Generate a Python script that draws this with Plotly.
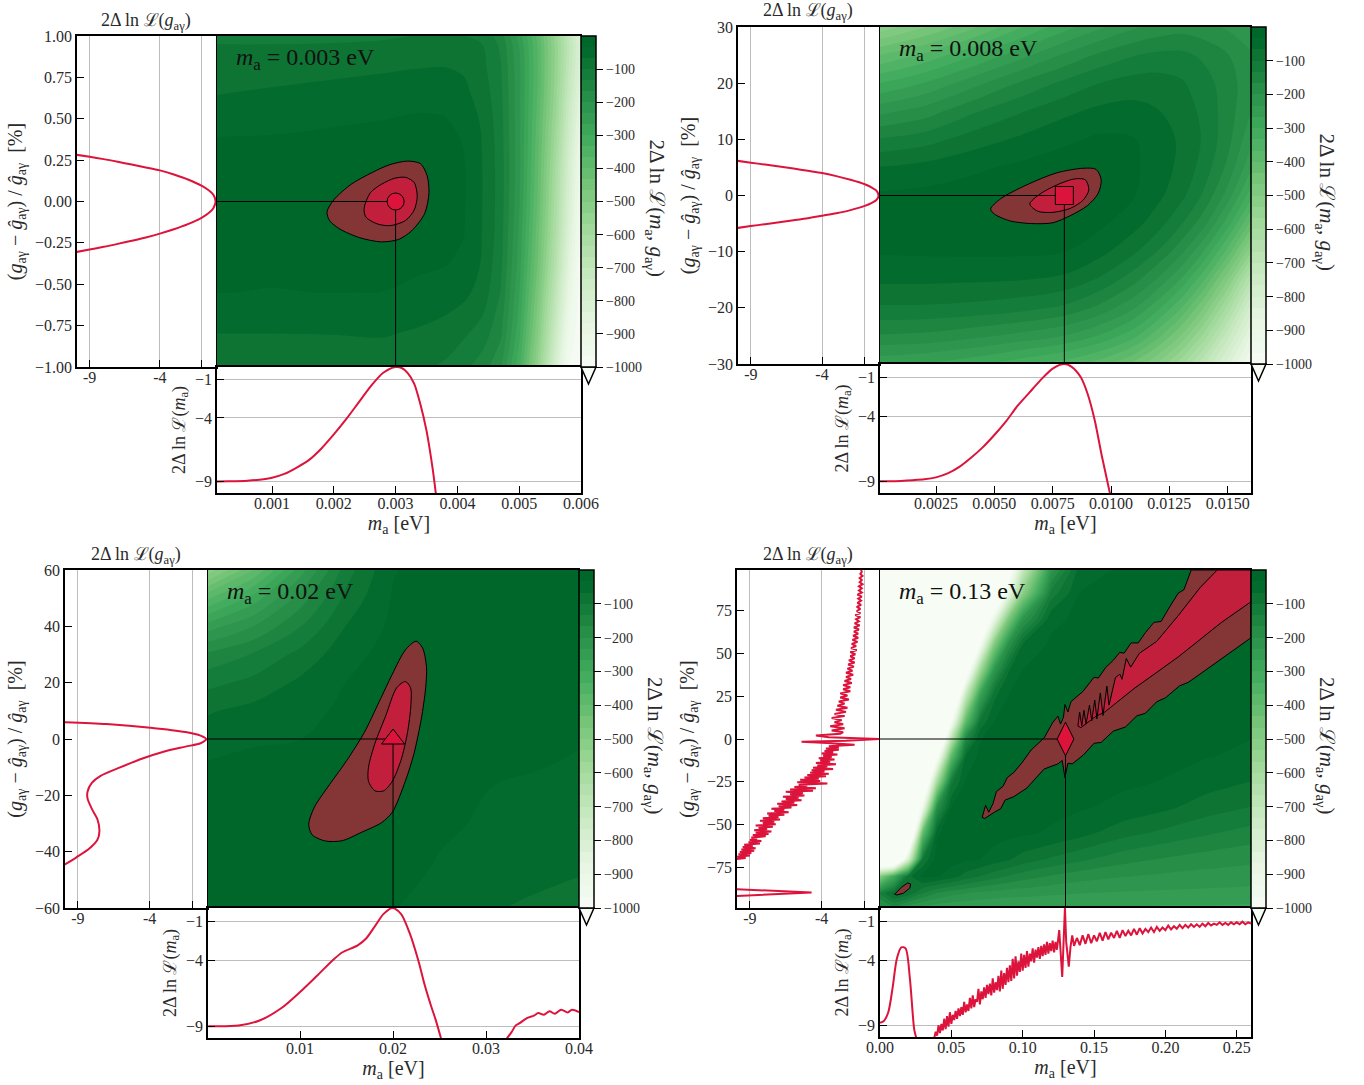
import plotly.graph_objects as go

W, H = 1364, 1085

# ---------- panel labels ----------
mass_text = ["0.003", "0.008", "0.02", "0.13"]
mass_best = [0.003, 0.008, 0.02, 0.13]

# ---------- panel 1 ----------
p1_x = [0.0001,0.001,0.002,0.0028,0.0034,0.0038,0.0041,0.0044,0.0047,0.0050,0.0053,0.0056,0.0058,0.0060]
p1_y = [-1,-0.8,-0.55,-0.38,-0.2,0,0.2,0.39,0.5,0.646,0.8,0.95,1]
p1_z = [
 [-92,-92,-90,-88,-95,-105,-125,-150,-195,-325,-540,-800,-970,-1000],
 [-67,-67,-66,-64,-72,-82,-95,-115,-160,-290,-500,-750,-930,-1000],
 [-33,-34,-33,-34,-42,-48,-58,-80,-135,-265,-460,-700,-880,-1000],
 [-30,-30,-26,-20,-28,-32,-40,-70,-125,-250,-435,-665,-845,-1000],
 [-24,-23,-18,-8,-10,-18,-32,-67,-118,-240,-420,-640,-815,-970],
 [-20,-19,-14,-2,-2,-12,-30,-66,-115,-230,-405,-625,-795,-950],
 [-24,-23,-18,-9,-8,-15,-30,-66,-115,-225,-395,-610,-780,-930],
 [-33,-32,-28,-24,-20,-24,-36,-68,-118,-225,-385,-590,-755,-905],
 [-48,-44,-38,-34,-30,-32,-44,-72,-120,-225,-380,-575,-740,-885],
 [-67,-62,-56,-50,-44,-46,-58,-80,-125,-225,-370,-560,-720,-860],
 [-82,-78,-74,-70,-66,-65,-70,-90,-130,-225,-365,-550,-700,-830],
 [-100,-100,-99,-95,-90,-88,-90,-100,-140,-235,-370,-550,-690,-820],
 [-110,-108,-105,-105,-98,-98,-100,-110,-150,-250,-380,-560,-700,-830],
]
p1_outer_x = [.00189,.0020,.00228,.00263,.00291,.00319,.0034,.00351,.00354,.00347,.00326,.00305,.00277,.00242,.0021,.00193,.00189]
p1_outer_y = [-.0625,.01,.104,.177,.223,.244,.229,.156,.052,-.073,-.177,-.229,-.244,-.219,-.167,-.115,-.0625]
p1_mid_x = [.00249,.00259,.00277,.00298,.00316,.0033,.00335,.0033,.00316,.00291,.0027,.00252,.00249]
p1_mid_y = [-.042,.052,.104,.14,.146,.115,.031,-.052,-.115,-.146,-.135,-.094,-.042]
p1_left_x = [-10,-9,-8,-7,-6,-5,-4,-3,-2,-1,-.5,-.2,-.03,-.2,-.5,-1,-2,-3,-4,-5,-6,-7,-8,-9,-10]
p1_left_y = [-.306,-.29,-.274,-.256,-.237,-.217,-.194,-.168,-.137,-.097,-.068,-.042,0,.042,.066,.094,.133,.163,.188,.206,.223,.24,.256,.27,.283]
p1_bot_x = [.0001,.0003,.0006,.0008,.001,.0012,.0014,.0016,.0018,.002,.0022,.0024,.0026,.0028,.003,.0031,.0032,.0033,.0034,.0035,.0036,.00365]
p1_bot_z = [-9,-8.98,-8.93,-8.85,-8.7,-8.4,-7.9,-7.3,-6.4,-5.3,-4.1,-2.8,-1.5,-.45,0,-.08,-.5,-1.3,-2.9,-5,-8,-9.9]

# ---------- panel 2 ----------
p2_x = [.0001,.002,.004,.006,.008,.0095,.011,.012,.013,.014,.015,.016]
p2_y = [-30,-25,-20,-15,-10,-5,0,5,10,15,20,25,30]
p2_z = [
 [-260,-270,-290,-320,-350,-385,-440,-505,-590,-700,-820,-940],
 [-170,-175,-190,-210,-235,-270,-325,-390,-470,-580,-720,-870],
 [-105,-105,-110,-120,-140,-175,-230,-290,-365,-470,-610,-780],
 [-60,-60,-62,-65,-75,-105,-155,-205,-270,-365,-495,-670],
 [-30,-28,-27,-27,-33,-55,-95,-135,-190,-270,-380,-530],
 [-28,-24,-18,-9,-9,-26,-55,-85,-130,-190,-285,-410],
 [-28,-24,-18,-10,-2,-10,-32,-58,-90,-140,-215,-320],
 [-65,-55,-40,-27,-15,-12,-28,-50,-75,-115,-175,-260],
 [-130,-115,-85,-62,-40,-28,-32,-50,-72,-105,-155,-225],
 [-210,-185,-140,-105,-75,-58,-55,-65,-80,-110,-150,-200],
 [-300,-265,-215,-165,-125,-100,-85,-85,-95,-120,-150,-190],
 [-400,-360,-305,-250,-195,-160,-135,-125,-125,-140,-165,-195],
 [-520,-470,-410,-340,-280,-240,-205,-190,-180,-190,-205,-225],
]
p2_outer_x = [.00484,.00528,.00639,.00769,.0088,.00936,.00958,.00945,.00899,.00825,.00751,.00658,.00565,.005,.00484]
p2_outer_y = [-2.4,-.55,1.9,4.05,4.85,4.66,2.82,.37,-1.8,-3.6,-4.85,-5,-4.5,-3.3,-2.4]
p2_mid_x = [.00652,.00695,.00769,.00843,.0089,.00905,.0088,.00825,.00751,.00686,.00652]
p2_mid_y = [-1.5,.25,1.9,2.95,2.8,1,-.85,-2.3,-3,-2.8,-1.5]
p2_left_x = [-10,-9,-8,-7,-6,-5,-4,-3,-2,-1,-.5,-.2,-.03,-.2,-.5,-1,-2,-3,-4,-5,-6,-7,-8,-9,-10]
p2_left_y = [-5.8,-5.45,-5.1,-4.75,-4.4,-4.05,-3.6,-3.15,-2.6,-1.85,-1.3,-.85,0,.9,1.4,2,2.8,3.45,4,4.4,4.8,5.15,5.5,5.85,6.2]
p2_bot_x = [.0001,.0005,.001,.0015,.002,.0025,.003,.0035,.004,.0045,.005,.0055,.006,.0065,.007,.0075,.008,.0083,.0087,.009,.0093,.0096,.00996]
p2_bot_z = [-9,-9,-8.97,-8.92,-8.85,-8.7,-8.4,-7.9,-7.2,-6.4,-5.45,-4.4,-3.2,-2.2,-1.2,-.35,0,-.2,-1,-2.3,-4.3,-7,-9.97]

# ---------- panel 3 ----------
p3_x = [.0001,.005,.01,.015,.02,.025,.03,.035,.04]
p3_y = [-60,-45,-30,-15,-8,0,10,20,30,40,50,60]
p3_z = [
 [-20,-18,-16,-15,-32,-45,-63,-72,-80],
 [-20,-16,-14,-14,-20,-36,-47,-55,-62],
 [-22,-15,-12,-10,-12,-28,-37,-42,-46],
 [-30,-20,-12,-6,-5,-20,-32,-36,-40],
 [-33,-22,-12,-4,-3,-15,-28,-30,-36],
 [-50,-40,-34,-10,-1,-12,-22,-26,-31],
 [-70,-56,-42,-28,-10,-15,-22,-26,-28],
 [-110,-90,-60,-33,-14,-12,-18,-22,-24],
 [-160,-130,-90,-45,-20,-10,-14,-16,-18],
 [-250,-200,-135,-65,-26,-10,-10,-12,-14],
 [-370,-285,-185,-90,-30,-10,-10,-10,-10],
 [-520,-400,-250,-115,-36,-12,-10,-10,-10],
]
p3_outer_x = [.02248,.02318,.0236,.02351,.02304,.02225,.02132,.01992,.01876,.01643,.01456,.0127,.0113,.01093,.01154,.01317,.01503,.01689,.01852,.01992,.02132,.02248]
p3_outer_y = [34.7,32.3,25.5,18.2,7.1,-5.2,-15,-26,-29.7,-33.4,-36.1,-36.2,-34,-30.3,-24.2,-16.2,-7.6,2.2,13.3,23,31.6,34.7]
p3_mid_x = [.02132,.02188,.02192,.02155,.02085,.01992,.01899,.01806,.01736,.01736,.01806,.01922,.02039,.02132]
p3_mid_y = [20.4,18.2,12,2.2,-7.6,-15,-18.4,-18.4,-15,-10,-1.5,8.3,18.2,20.4]
p3_left_x = [-10,-9.1,-8.2,-7.64,-7.5,-7.64,-8.03,-8.33,-8.33,-8.03,-7.42,-6.06,-4.55,-3.03,-1.5,-.45,-.06,-.45,-1.5,-3.94,-7,-10]
p3_left_y = [-44.8,-42,-38.9,-35.8,-32.8,-28.5,-24.8,-21.1,-18.7,-15.6,-13.1,-10.1,-7,-4.5,-2.7,-1.5,0,1.2,2.45,4,5.3,6]
p3_bot_x = [.00012,.00339,.00571,.00804,.01,.01177,.01363,.01456,.0162,.01713,.01806,.01899,.01992,.02085,.02178,.02272,.02342,.02411,.02458,.02519]
p3_bot_z = [-9,-8.95,-8.55,-7.6,-6.4,-5.2,-3.9,-3.37,-2.84,-2.3,-1.38,-.45,0,-.45,-1.9,-4,-5.9,-7.5,-8.5,-10]
p3_bot2_x = [.03217,.03273,.0332,.03366,.03436,.03515,.03562,.03622,.03683,.03739,.03809,.03879,.03925,.04]
p3_bot2_z = [-10,-9.47,-8.94,-8.75,-8.4,-8.2,-8,-8.13,-7.87,-8.05,-7.74,-7.95,-7.74,-7.93]

# ---------- panel 4 ----------
p4_x = [0,.01,.02,.03,.04,.05,.06,.07,.08,.09,.10,.12,.14,.17,.20,.23,.26]
p4_y = [-98.5,-90,-80,-70,-55,-40,-25,-10,0,10,25,40,55,70,85,98.5]
p4_z = [
 [-220,-180,-230,-250,-258,-262,-264,-265,-266,-267,-268,-270,-270,-270,-272,-272,-275],
 [-130,-55,-80,-135,-170,-190,-200,-210,-215,-220,-222,-228,-233,-238,-240,-242,-245],
 [-500,-300,-80,-25,-30,-50,-80,-100,-120,-135,-150,-170,-185,-198,-207,-213,-218],
 [-1400,-1400,-800,-100,-15,-20,-27,-33,-48,-62,-80,-105,-125,-153,-170,-183,-192],
 [-1500,-1500,-1400,-400,-40,-10,-14,-17,-20,-25,-28,-38,-55,-88,-110,-130,-147],
 [-1500,-1500,-1300,-930,-190,-33,-8,-10,-12,-15,-17,-24,-30,-42,-60,-85,-102],
 [-1500,-1500,-1500,-1300,-600,-110,-30,-8,-8,-9,-10,-15,-20,-28,-35,-52,-67],
 [-1500,-1500,-1500,-1800,-1050,-400,-65,-25,-15,-10,-8,-5,-8,-15,-26,-32,-40],
 [-1500,-1500,-1500,-1800,-1400,-680,-170,-36,-20,-12,-8,-5,-4,-8,-15,-22,-33],
 [-1500,-1500,-1500,-1800,-1600,-1000,-400,-95,-33,-20,-12,-6,-4,-4,-8,-14,-20],
 [-1500,-1500,-1500,-1800,-1800,-1400,-720,-270,-75,-33,-22,-12,-7,-4,-4,-6,-10],
 [-1500,-1500,-1500,-1800,-1800,-1800,-1150,-590,-220,-70,-33,-20,-12,-7,-4,-4,-5],
 [-1500,-1500,-1500,-1800,-1800,-1800,-1500,-1000,-490,-200,-65,-27,-18,-11,-7,-4,-3],
 [-1500,-1500,-1500,-1800,-1800,-1800,-1800,-1250,-900,-480,-220,-42,-26,-16,-10,-6,-4],
 [-1500,-1500,-1500,-1800,-1800,-1800,-1800,-1800,-1300,-900,-520,-120,-33,-22,-14,-9,-5],
 [-1500,-1500,-1500,-1800,-1800,-1800,-1800,-1800,-1500,-1100,-720,-220,-50,-28,-18,-12,-8],
]
p4_outer_x = [.0716,.074,.0762,.0792,.0816,.0862,.0892,.0938,.0998,.1059,.115,.1211,.1247,.1265,.1286,.1296,.1317,.1338,.1423,.15,.153,.158,.1635,.168,.171,.176,.181,.186,.192,.197,.203,.209,.213,.2181,.26,.26,.2242,.216,.21,.2,.1939,.186,.18,.172,.1635,.155,.15,.1423,.1347,.1317,.1296,.1277,.1247,.115,.1029,.0938,.0877,.0846,.0801,.0762,.0734,.0716]
p4_outer_y = [-45.7,-38.6,-42.7,-37.6,-30.6,-27.6,-22.5,-19.5,-13.5,-6.4,.6,9.7,13.3,8.7,12.7,20.1,15.7,21.7,27.8,36,35.5,41.5,45.9,50.5,50,56,56,62,68,68.5,77,85,87,98.5,98.5,59,37.8,33,31,24,21.7,15,13.5,7,4.6,-2,-2.5,-9.5,-14.5,-14.1,-22.5,-12.5,-14.5,-17.5,-28.6,-33.6,-35.6,-40.6,-42.7,-44.7,-46.3,-45.7]
p4_mid_x = [.1387,.1399,.1414,.1429,.1444,.1468,.1484,.1505,.152,.1544,.1563,.159,.1605,.165,.1681,.1696,.1726,.1757,.1817,.1939,.2091,.2242,.2363,.26,.26,.2394,.2242,.2091,.1939,.1787,.1635,.1575,.1514,.1453,.1408,.1387]
p4_mid_y = [7.6,15.7,7.6,16.7,8.7,19.7,10.7,22.7,11.7,26.8,13.7,30.8,19.7,35.8,37.8,34.8,46.9,41.9,49.9,56.9,72,88.1,98.5,98.5,80,68,57.9,47.9,38.8,29.8,19.7,15.7,13.3,9.7,6.6,7.6]
p4_blob_x = [.0103,.0149,.0194,.0215,.0209,.0164,.0118,.0103]
p4_blob_y = [-90.5,-86.5,-83.9,-84.5,-86.9,-89.9,-90.9,-90.5]
p4_left_x = [-10,-9.3,-9.9,-9,-9.8,-8.9,-9.7,-8.7,-9.6,-8.6,-9.5,-8.8,-9.4,-8.3,-9.1,-8.2,-9,-8.5,-8.9,-7.9,-8.8,-7.7,-8.6,-7.5,-8.7,-7.8,-8.4,-7.4,-8.6,-7.2,-8.1,-7.3,-8.3,-6.9,-8.1,-7,-7.7,-6.6,-7.8,-6.3,-7.3,-6.6,-7.5,-6.1,-7,-5.7,-7.1,-5.9,-6.8,-5.4,-6.5,-5.6,-6.7,-5.2,-6.2,-5.3,-6.5,-4.6,-6.2,-4.4,-5.9,-5,-5.6,-3.6,-5.7,-4.1,-5.5,-4.2,-5.2,-3.7,-5,-3.5,-4.8,-3.8,-4.7,-3.2,-4.6,-3.6,-4.3,-3,-4.4,-3.4,-4.1,-3.1,-4.2,-3.3,-3.9,-2.9,-4,-3.2,-3.8,-2.8,-3.7,-2.8,-3.5,-1.7,-3.6,-5.4,-2.3,-1,0,-1,-3.5,-4.4,-2.7,-2.5,
             -3.3,-2.4,-3.4,-2.5,-3.1,-2.6,-3.3,-2.4,-3.1,-2.3,-3,-2.2,-2.9,-2.4,-2.8,-2.1,-2.7,-2.2,-2.7,-2,-2.5,-2,-2.5,-1.9,-2.4,-1.95,-2.3,-1.8,-2.3,-1.85,-2.2,-1.75,-2.15,-1.7,-2.1,-1.7,-2,-1.65,-2,-1.55,-1.95,-1.6,-1.9,-1.5,-1.85,-1.45,-1.8,-1.45,-1.75,-1.4,-1.75,-1.35,-1.7,-1.4,-1.6,-1.3,-1.65,-1.3,-1.55,-1.3,-1.55,-1.25,-1.5,-1.25,-1.45,-1.2,-1.5,-1.2,-1.4,-1.2,-1.4,-1.15,-1.35,-1.2,-1.35,-1.15,-1.3,-1.2,-1.25]
p4_left_y = [-70,-69.3,-68.6,-67.9,-67.2,-66.5,-65.8,-65.1,-64.4,-63.7,-63,-62.3,-61.6,-60.9,-60.2,-59.5,-58.8,-58.1,-57.4,-56.7,-56,-55.3,-54.6,-53.9,-53.2,-52.5,-51.8,-51.1,-50.4,-49.7,-49,-48.3,-47.6,-46.9,-46.2,-45.5,-44.8,-44.1,-43.4,-42.7,-42,-41.3,-40.6,-39.9,-39.2,-38.5,-37.8,-37.1,-36.4,-35.7,-35,-34.3,-33.6,-32.9,-32.2,-31.5,-30.8,-30.1,-29.4,-28.7,-28,-27.3,-26.6,-25.9,-25.2,-24.5,-23.8,-23.1,-22.4,-21.7,-21,-20.3,-19.6,-18.9,-18.2,-17.5,-16.8,-16.1,-15.4,-14.7,-14,-13.3,-12.6,-11.9,-11.2,-10.5,-9.8,-9.1,-8.4,-7.7,-7,-6.3,-5.6,-4.9,-4.2,-3.4,-2.4,-1.6,-1,-.3,0,.3,1,2,3,4,
             5,6.2,7.4,8.6,9.8,11,12.2,13.4,14.6,15.8,17,18.2,19.4,20.6,21.8,23,24.2,25.4,26.6,27.8,29,30.2,31.4,32.6,33.8,35,36.2,37.4,38.6,39.8,41,42.2,43.4,44.6,45.8,47,48.2,49.4,50.6,51.8,53,54.2,55.4,56.6,57.8,59,60.2,61.4,62.6,63.8,65,66.2,67.4,68.6,69.8,71,72.2,73.4,74.6,75.8,77,78.2,79.4,80.6,81.8,83,84.2,85.4,86.6,87.8,89,90.2,91.4,92.6,93.8,95,96.2,97.4,98.5]
p4_left2_x = [-10,-4.7,-10]
p4_left2_y = [-87.5,-89.5,-91.5]
p4_bot_x = [0,.0027,.0058,.0088,.0118,.0149,.0179,.0209,.024,.0255]
p4_bot_z = [-8.8,-8.67,-8,-6.15,-3.9,-3.02,-3.1,-5.36,-9.34,-10]
p4_bot2_x = [.038,.039,.040,.041,.042,.043,.044,.045,.046,.047,.048,.049,.050,.051,.052,.053,.054,.055,.056,.057,.058,.059,.060,.061,.062,.063,.064,.065,.066,.067,.068,.069,.070,.071,.072,.073,.074,.075,.076,.077,.078,.079,.080,.081,.082,.083,.084,.085,.086,.087,.088,.089,.090,.091,.092,.093,.094,.095,.096,.097,.098,.099,.100,.101,.102,.103,.104,.105,.106,.107,.108,.109,.110,.111,.112,.113,.114,.115,.116,.117,.118,.119,.120,.121,.122,.123,.124,
             .1256,.1277,.1285,.1296,.1305,.1323,.1335,.1347,.136,
             .138,.140,.142,.144,.146,.148,.150,.152,.154,.156,.158,.160,.162,.164,.166,.168,.170,.172,.174,.176,.178,.180,.182,.184,.186,.188,.190,.192,.194,.196,.198,.200,.202,.204,.206,.208,.210,.212,.214,.216,.218,.220,.222,.224,.226,.228,.230,.232,.234,.236,.238,.240,.242,.244,.246,.248,.250,.252,.254,.256,.258,.260]
p4_bot2_z = [-10,-9.5,-9.8,-9,-9.6,-8.9,-9.4,-8.5,-9.3,-8.3,-9.1,-8,-8.9,-8.2,-8.6,-7.9,-8.5,-7.7,-8.3,-7.6,-8.2,-7.2,-8,-7.4,-7.9,-6.9,-7.7,-6.7,-7.6,-7,-7.2,-6.2,-7.4,-6.4,-7,-6.1,-6.9,-5.9,-6.6,-5.8,-6.7,-5.4,-6.5,-5.7,-6.3,-5.2,-6.4,-4.8,-6.2,-5,-5.9,-4.6,-5.7,-4.4,-5.6,-3.9,-5.4,-3.7,-5.2,-4.1,-4.9,-3.5,-4.8,-3.6,-4.6,-3.3,-4.5,-3.5,-4.1,-3.1,-4.2,-3.2,-3.8,-3,-3.9,-2.9,-3.7,-2.8,-3.6,-2.6,-3.5,-2.7,-3.3,-2.5,-3.4,-2.6,-3.2,
             -1.7,-5.3,-2.5,0,-2.6,-4.5,-3,-2.1,-2.9,
             -2.3,-2.85,-2.1,-2.75,-2,-2.7,-2.1,-2.55,-1.9,-2.5,-1.85,-2.4,-1.9,-2.3,-1.75,-2.3,-1.7,-2.15,-1.75,-2.1,-1.6,-2.05,-1.55,-1.95,-1.6,-1.85,-1.5,-1.85,-1.45,-1.75,-1.5,-1.7,-1.35,-1.65,-1.4,-1.6,-1.3,-1.55,-1.3,-1.5,-1.25,-1.45,-1.25,-1.45,-1.2,-1.4,-1.15,-1.35,-1.2,-1.3,-1.1,-1.3,-1.15,-1.3,-1.1,-1.25,-1.1,-1.25,-1.05,-1.25,-1.1,-1.2]

# ---------- ticks ----------
p_gticks = [[-1,-.75,-.5,-.25,0,.25,.5,.75,1],[-30,-20,-10,0,10,20,30],[-60,-40,-20,0,20,40,60],[-75,-50,-25,0,25,50,75]]
p_gformat = [".2f","d","d","d"]
p_mticks = [[.001,.002,.003,.004,.005,.006],[.0025,.005,.0075,.01,.0125,.015],[.01,.02,.03,.04],[0,.05,.1,.15,.2,.25]]
p_mformat = [".3f",".4f",".2f",".2f"]
p_mrange = [[.00011,.006],[.0001,.016],[.0001,.04],[0,.26]]
p_grange = [[-1,1],[-30,30],[-60,60],[-98.5,98.5]]
like_ticks = [-9,-4,-1]
like_left_text = ["-9","-4",""]
like_bot_text = ["\u22129","\u22124","\u22121"]
cbar_ticks = [-100,-200,-300,-400,-500,-600,-700,-800,-900,-1000]

# layout (pixels): left, split, right, top, mid, bottom
geom = [(77,217,581,36,367,493),(738,880,1251,27,364,493),(65,208,579,570,908,1038),(737,880,1251,570,908,1037)]
top_title_x = [146,808,136,808]
top_title_y = [21,12,555,555]

FONT = "Liberation Serif"
TXT = "#2a2a2a"
RED = "#dc143c"
BROWN = "#843535"
MID = "#c21f3c"
COLORSCALE = [[0,"#f7fcf5"],[.143,"#e5f5e0"],[.286,"#c7e9c0"],[.429,"#a1d99b"],[.571,"#74c476"],[.714,"#41ab5d"],[.857,"#238b45"],[1,"#00672b"]]

fields = [(p1_x,p1_y,p1_z),(p2_x,p2_y,p2_z),(p3_x,p3_y,p3_z),(p4_x,p4_y,p4_z)]
outers = [(p1_outer_x,p1_outer_y),(p2_outer_x,p2_outer_y),(p3_outer_x,p3_outer_y),(p4_outer_x,p4_outer_y)]
mids = [(p1_mid_x,p1_mid_y),(p2_mid_x,p2_mid_y),(p3_mid_x,p3_mid_y),(p4_mid_x,p4_mid_y)]
lefts = [[(p1_left_x,p1_left_y)],[(p2_left_x,p2_left_y)],[(p3_left_x,p3_left_y)],[(p4_left_x,p4_left_y),(p4_left2_x,p4_left2_y)]]
bots = [[(p1_bot_x,p1_bot_z)],[(p2_bot_x,p2_bot_z)],[(p3_bot_x,p3_bot_z),(p3_bot2_x,p3_bot2_z)],[(p4_bot_x,p4_bot_z),(p4_bot2_x,p4_bot2_z)]]
symbols = ["circle","square","triangle-up","diamond-tall"]
msizes = [17,18,20,24]
smooth = [True,True,True,False]
field_smooth = [1,1,1,0.5]

G_TITLE = "(<i>g</i><sub>a\u03b3</sub> \u2212 <i>\u011d</i><sub>a\u03b3</sub>) / <i>\u011d</i><sub>a\u03b3</sub>  [%]"
L_G = "2\u0394 ln \u2112(<i>g</i><sub>a\u03b3</sub>)"
L_M = "2\u0394 ln \u2112(<i>m</i><sub>a</sub>)"
L_2D = "2\u0394 ln \u2112(<i>m</i><sub>a</sub>, <i>g</i><sub>a\u03b3</sub>)"
M_TITLE = "<i>m</i><sub>a</sub> [eV]"

fig = go.Figure()
layout = dict(width=W, height=H, autosize=False, margin=dict(l=0,r=0,t=0,b=0,autoexpand=False),
              paper_bgcolor="white", plot_bgcolor="white", showlegend=False,
              font=dict(family=FONT, color=TXT, size=16), hovermode=False)
shapes, annos = [], []

def fx(p): return p / W
def fy(p): return 1 - p / H

spine = dict(showline=True, linecolor="black", linewidth=1.5, mirror=True, zeroline=False)
tickf = dict(family=FONT, size=16, color=TXT)

for i in range(4):
    L, S, R, T, M, B = geom[i]
    a = 3*i + 1   # left, main, bottom axis numbers
    ax = [a, a+1, a+2]
    name = lambda k: "" if k == 1 else str(k)
    xl, yl = "x"+name(ax[0]), "y"+name(ax[0])
    xm, ym = "x"+name(ax[1]), "y"+name(ax[1])
    xb, yb = "x"+name(ax[2]), "y"+name(ax[2])

    layout["xaxis"+name(ax[0])] = dict(domain=[fx(L),fx(S-1)], anchor=yl, range=[-9.9,0], tickmode="array",
        tickvals=like_ticks, ticktext=like_left_text, ticks="inside", ticklen=7, tickcolor="black", tickwidth=1,
        ticklabelstandoff=-5, showgrid=True, gridcolor="#bdbdbd", gridwidth=1, tickfont=tickf, **spine)
    layout["yaxis"+name(ax[0])] = dict(domain=[fy(M),fy(T)], anchor=xl, range=p_grange[i], tickmode="array",
        tickvals=p_gticks[i], tickformat=p_gformat[i], ticks="inside", ticklen=7, tickcolor="black", tickwidth=1,
        showgrid=False, tickfont=tickf, title=dict(text=G_TITLE, standoff=7, font=dict(family=FONT,size=20,color=TXT)), **spine)
    # main panel: only its top and right edges; the left panel and lower panel supply the shared edges
    layout["xaxis"+name(ax[1])] = dict(domain=[fx(S),fx(R)], anchor=ym, range=p_mrange[i], showticklabels=False,
        ticks="", showgrid=False, side="top", showline=True, linecolor="black", linewidth=1.5, zeroline=False)
    layout["yaxis"+name(ax[1])] = dict(domain=[fy(M),fy(T)], anchor=xm, range=p_grange[i], showticklabels=False,
        ticks="", showgrid=False, side="right", showline=True, linecolor="#333333", linewidth=1, zeroline=False)
    layout["xaxis"+name(ax[2])] = dict(domain=[fx(S),fx(R)], anchor=yb, range=p_mrange[i], tickmode="array",
        tickvals=p_mticks[i], tickformat=p_mformat[i], ticks="inside", ticklen=7, tickcolor="black", tickwidth=1,
        ticklabelstandoff=-5, showgrid=False, tickfont=tickf,
        title=dict(text=M_TITLE, standoff=3, font=dict(family=FONT,size=20,color=TXT)), **spine)
    layout["yaxis"+name(ax[2])] = dict(domain=[fy(B),fy(M)], anchor=xb, range=[-9.9,0], tickmode="array",
        tickvals=like_ticks, ticktext=like_bot_text, ticks="inside", ticklen=7, tickcolor="black", tickwidth=1,
        showgrid=True, gridcolor="#bdbdbd", gridwidth=1, tickfont=tickf,
        title=dict(text=L_M, standoff=5, font=dict(family=FONT,size=18,color=TXT)), **spine)

    zx, zy, zz = fields[i]
    fig.add_trace(go.Contour(x=zx, y=zy, z=zz, xaxis=xm, yaxis=ym, zmin=-1000, zmax=0, colorscale=COLORSCALE,
        contours=dict(coloring="fill", start=-1000, end=0, size=1000/30, showlines=False),
        line=dict(width=0, smoothing=field_smooth[i]), hoverinfo="skip",
        colorbar=dict(x=fx(R), xanchor="left", xpad=0, y=fy(M), yanchor="bottom", ypad=0, len=(M-T)/H, lenmode="fraction",
            thickness=15, thicknessmode="pixels", outlinewidth=1.5, outlinecolor="black",
            tickmode="array", tickvals=cbar_ticks, ticks="outside", ticklen=7, tickcolor="black", tickwidth=1,
            tickfont=dict(family=FONT,size=14,color=TXT))))

    shp = "spline" if smooth[i] else "linear"
    for (px,py),col in ((outers[i],BROWN),(mids[i],MID)):
        fig.add_trace(go.Scatter(x=px, y=py, xaxis=xm, yaxis=ym, mode="lines", fill="toself", fillcolor=col,
            line=dict(color="black", width=1, shape=shp, smoothing=0.8), hoverinfo="skip"))
    if i == 3:
        fig.add_trace(go.Scatter(x=p4_blob_x, y=p4_blob_y, xaxis=xm, yaxis=ym, mode="lines", fill="toself", fillcolor=BROWN,
            line=dict(color="black", width=1), hoverinfo="skip"))

    mb = mass_best[i]
    fig.add_trace(go.Scatter(x=[p_mrange[i][0],mb], y=[0,0], xaxis=xm, yaxis=ym, mode="lines", line=dict(color="black",width=1), hoverinfo="skip"))
    fig.add_trace(go.Scatter(x=[mb,mb], y=[p_grange[i][0],0], xaxis=xm, yaxis=ym, mode="lines", line=dict(color="black",width=1), hoverinfo="skip"))
    fig.add_trace(go.Scatter(x=[mb], y=[0], xaxis=xm, yaxis=ym, mode="markers", hoverinfo="skip",
        marker=dict(symbol=symbols[i], size=msizes[i], color=RED, line=dict(color="black",width=1))))

    for k,(px,py) in enumerate(lefts[i]):
        fig.add_trace(go.Scatter(x=px, y=py, xaxis=xl, yaxis=yl, mode="lines", hoverinfo="skip",
            line=dict(color=RED, width=2, shape="spline" if i<3 else "linear", smoothing=0.8)))
    for k,(px,py) in enumerate(bots[i]):
        fig.add_trace(go.Scatter(x=px, y=py, xaxis=xb, yaxis=yb, mode="lines", hoverinfo="skip",
            line=dict(color=RED, width=2, shape="spline" if (i<3 or k==0) else "linear", smoothing=0.8)))

    annos.append(dict(xref="paper", yref="paper", x=fx(top_title_x[i]), y=fy(top_title_y[i]), text=L_G, showarrow=False,
                      xanchor="center", yanchor="middle", font=dict(family=FONT,size=18,color=TXT)))
    annos.append(dict(xref="paper", yref="paper", x=fx(S+17), y=fy(T+23), text=f"<i>m</i><sub>a</sub> = {mass_text[i]} eV",
                      showarrow=False, xanchor="left", yanchor="middle", font=dict(family=FONT,size=24,color="#111111")))
    annos.append(dict(xref="paper", yref="paper", x=fx(R+75), y=fy((T+M)/2+6), text=L_2D, showarrow=False, textangle=90,
                      xanchor="center", yanchor="middle", font=dict(family=FONT,size=21,color=TXT)))
    shapes.append(dict(type="path", xref="paper", yref="paper", layer="above",
        path=f"M {fx(R)} {fy(M)} L {fx(R+15)} {fy(M)} L {fx(R+7.5)} {fy(M+17)} Z",
        fillcolor="#f7fcf5", line=dict(color="black", width=1.5)))

layout["shapes"] = shapes
layout["annotations"] = annos
fig.update_layout(**layout)
fig.write_html("out.html", config=dict(displayModeBar=False),
               post_script="document.body.style.margin='0';document.body.style.overflow='hidden';")
